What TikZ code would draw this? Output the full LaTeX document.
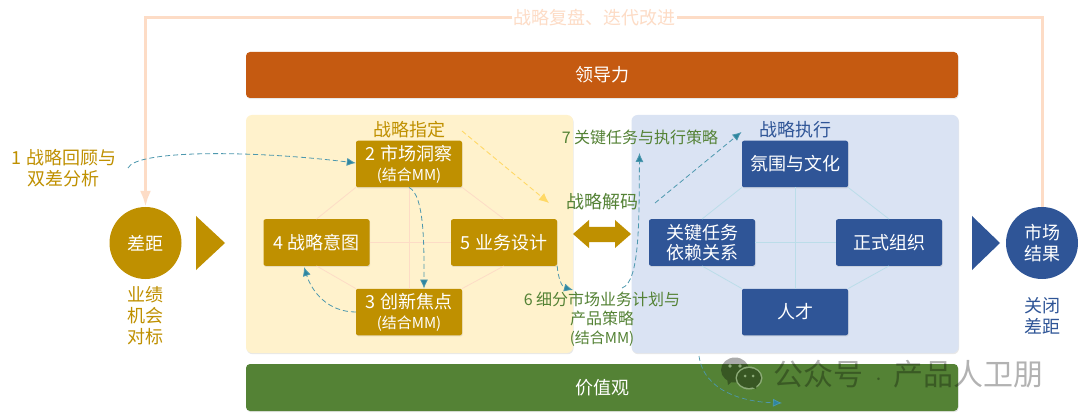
\documentclass[tikz,border=0pt]{standalone}
\usepackage{fontspec}
\setmainfont{Noto Sans CJK SC}
\usetikzlibrary{arrows.meta,shadows,calc}
\definecolor{gold}{HTML}{BF9000}
\definecolor{navy}{HTML}{2F5597}
\definecolor{leaf}{HTML}{548235}
\definecolor{rust}{HTML}{C55A11}
\definecolor{peach}{HTML}{FDDCC6}
\definecolor{teal2}{HTML}{2E86A0}
\definecolor{ice}{HTML}{BBDDE9}
\definecolor{amber}{HTML}{FFD966}
\definecolor{panelY}{HTML}{FFF2CC}
\definecolor{panelB}{HTML}{DAE3F3}
\tikzset{
  softshadow/.style={drop shadow={opacity=.18,shadow xshift=.6pt,shadow yshift=-1.2pt}},
  panel/.style={rounded corners=6pt,minimum width=327pt,minimum height=238pt,inner sep=0pt,softshadow},
  bar/.style={rounded corners=4pt,minimum width=712pt,minimum height=46pt,inner sep=0pt,text=white,font=\fontsize{18}{22}\selectfont,softshadow},
  boxbase/.style={rounded corners=2pt,minimum width=106pt,minimum height=46.5pt,inner sep=0pt,text=white,align=center,softshadow},
  goldbox/.style={boxbase,fill=gold,font=\fontsize{18}{22}\selectfont},
  navybox/.style={boxbase,fill=navy,font=\fontsize{18}{22}\selectfont},
  disc/.style={circle,minimum size=72pt,inner sep=0pt,text=white,align=center,font=\fontsize{18}{22}\selectfont},
  lab/.style={align=center,inner sep=0pt,font=\fontsize{18}{22}\selectfont},
  peachline/.style={draw=peach,line width=.8pt},
  iceline/.style={draw=ice,line width=.8pt},
  flow/.style={draw=teal2!85,line width=.8pt,dash pattern=on 5pt off 3pt,-{Latex[length=9pt,width=8pt,fill=teal2]}},
  loopline/.style={draw=peach,line width=3pt},
}
\begin{document}
\begin{tikzpicture}[x=1pt,y=-1pt]
\useasboundingbox (0,0) rectangle (1080,417);
\fill[white] (0,0) rectangle (1080,417);

% panels and bars
\node[panel,fill=panelY] (py) at (409.5,234) {};
\node[panel,fill=panelB] (pb) at (795,234) {};
\node[bar,fill=rust] (lead) at (602,75) {领导力};
\node[bar,fill=leaf,minimum height=47pt] (vals) at (602,387.5) {价值观};

% boxes
\node[goldbox] (n2) at (409,164) {2 市场洞察\\[-2pt]{\fontsize{15}{17}\selectfont (结合MM)}};
\node[goldbox] (n3) at (409,312) {3 创新焦点\\[-2pt]{\fontsize{15}{17}\selectfont (结合MM)}};
\node[goldbox] (n4) at (316.5,242.5) {4 战略意图};
\node[goldbox] (n5) at (504,242.5) {5 业务设计};
\node[navybox] (b1) at (795,164) {氛围与文化};
\node[navybox] (b2) at (702,242.5) {关键任务\\[-2pt]依赖关系};
\node[navybox] (b3) at (889,242.5) {正式组织};
\node[navybox] (b4) at (795,312) {人才};

% lattice lines
\draw[peachline] (n2.south west) -- (n4.north);
\draw[peachline] (n2.south east) -- (n5.north);
\draw[peachline] (n4.south) -- (n3.north west);
\draw[peachline] (n5.south) -- (n3.north east);
\draw[peachline] (n4.east) -- (n5.west);
\draw[peachline] (n2.south) -- (n3.north);
\draw[iceline] (b1.south west) -- (b2.north);
\draw[iceline] (b1.south east) -- (b3.north);
\draw[iceline] (b2.south) -- (b4.north west);
\draw[iceline] (b3.south) -- (b4.north east);
\draw[iceline] (b2.east) -- (b3.west);
\draw[iceline] (b1.south) -- (b4.north);

% discs and triangles
\node[disc,fill=gold] (gap) at (145.5,243) {差距};
\node[disc,fill=navy] (mkt) at (1042,243) {市场\\[-1pt]结果};
\fill[gold] (196,216) -- (225,243) -- (196,270) -- cycle;
\fill[navy] (972,216) -- (1000,243) -- (972,270) -- cycle;
\fill[gold] (573,234) -- (589,220) -- (589,227) -- (615,227) -- (615,220) -- (631,234) -- (615,248) -- (615,242) -- (589,242) -- (589,248) -- cycle;

% labels
\node[lab,text=gold] (l1) at (64,168.5) {1 战略回顾与\\[-1pt]双差分析};
\node[lab,text=gold] (lz) at (409,130) {战略指定};
\node[lab,text=navy] (lx) at (795,130) {战略执行};
\node[lab,text=leaf] (ld) at (602,202) {战略解码};
\node[lab,text=leaf,font=\fontsize{16}{20}\selectfont] (l7) at (640,137) {7 关键任务与执行策略};
\node[lab,text=leaf,font=\fontsize{16}{20}\selectfont] (l6) at (602,319) {6 细分市场业务计划与\\[-1pt]产品策略\\[-1pt]{\fontsize{15}{17}\selectfont (结合MM)}};
\node[lab,text=gold] (lgap) at (145.5,316) {业绩\\[-1pt]机会\\[-1pt]对标};
\node[lab,text=navy] (lclose) at (1042,315.5) {关闭\\[-1pt]差距};

% feedback loop
\node[lab,text=peach,fill=white,inner xsep=1pt] (lfb) at (594.5,18) {战略复盘、迭代改进};
\coordinate (ltop) at (145.5,18);
\coordinate (rtop) at (1042,18);
\draw[loopline] (mkt.north) -- (rtop) -- (lfb.east);
\draw[loopline,-{Latex[length=16pt,width=11pt,fill=peach]}] (lfb.west) -- (ltop) -- (gap.north);

% dashed connectors
\coordinate (s1) at (128,168);
\coordinate (e34) at (304,267);
\coordinate (e56) at (573,290);
\coordinate (s67) at (622,288);
\coordinate (e67) at (639.5,153);
\coordinate (s7x) at (655,203);
\coordinate (e7x) at (741.5,132);
\coordinate (sz) at (462,131);
\coordinate (ez) at (549,203);
\coordinate (sb) at (699,356);
\coordinate (eb) at (782,403);
\draw[flow] (s1) .. controls (136,150) and (250,150) .. (n2.west|-0,163);
\draw[flow] (n2.south) .. controls (425,195) and (424,250) .. (n3.north-|424,0);
\draw[flow] (n3.west) .. controls (328,312) and (312,292) .. (e34);
\draw[flow] (n5.south east) .. controls (558,278) and (562,287) .. (e56);
\draw[flow] (s67) .. controls (640,282) and (639,220) .. (e67);
\draw[flow] (s7x) -- (e7x);
\draw[draw=amber,line width=.9pt,dash pattern=on 5pt off 3pt,-{Latex[length=10pt,width=9pt,fill=amber]}] (sz) -- (ez);
\draw[flow,line width=.7pt] (sb) .. controls (704,392) and (745,402) .. (eb);

% watermark
\begin{scope}[transparency group,opacity=.33]
\fill[black] (735,370) ellipse [x radius=14,y radius=12.5];
\fill[black] (728,385) -- (727,378) -- (734,380) -- cycle;
\fill[white] (749,378) ellipse [x radius=13.5,y radius=11.5];
\fill[black] (749,378) ellipse [x radius=12,y radius=10];
\fill[black] (756,389) -- (757,382) -- (750,386) -- cycle;
\fill[white] (730,366) circle (1.8) (740,366) circle (1.8) (745,376) circle (1.5) (753,376) circle (1.5);
\end{scope}
\node[black,opacity=.3,inner sep=0pt,font=\fontsize{30}{36}\selectfont] (mark) at (908.5,374) {公众号\hspace{12pt}$\cdot$\hspace{12pt}产品人卫朋};
\end{tikzpicture}
\end{document}
